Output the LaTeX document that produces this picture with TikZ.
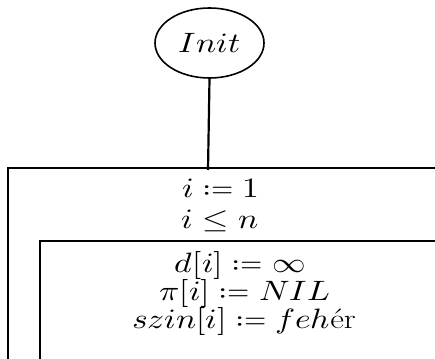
\documentclass[tikz,border=0pt]{standalone}
\usepackage{amsmath}
\usepackage{unicode-math}
\usetikzlibrary{shapes.geometric}
\newcommand{\wmath}[1]{\scalebox{1.2}[1]{$#1$}}
\begin{document}
\begin{tikzpicture}[x=1pt,y=-1pt,
  rule/.style={line width=2.2pt},
  lbl/.style={inner sep=0pt,text height=19pt,text depth=6pt,font=\fontsize{28}{33}\selectfont},
  start/.style={draw,ellipse,line width=1.6pt,minimum width=109pt,minimum height=70pt,inner sep=0pt,font=\fontsize{28}{34}\selectfont}]
\useasboundingbox (0,0) rectangle (435,358);
\clip (0,0) rectangle (435,358);
\node[start] (init) at (209.5,43) {\wmath{Init}};
\coordinate (top) at (208,170);
\draw[rule] (init.south) -- (top);
% outer loop box
\draw[rule] (436,168) -- (8,168) -- (8,370);
% inner box
\draw[rule] (436,241) -- (40,241) -- (40,370);
\node[lbl] (a1) at (221,191) {\wmath{i \coloneq 1}};
\node[lbl] (a2) at (220,222) {\wmath{i \leq n}};
\node[lbl] (b1) at (240,266) {\wmath{d[i] \coloneq \infty}};
\node[lbl] (b2) at (245,294) {\wmath{\pi[i] \coloneq NIL}};
\node[lbl] (b3) at (244,322) {\wmath{szin[i] \coloneq feh\text{ér}}};
\end{tikzpicture}
\end{document}
